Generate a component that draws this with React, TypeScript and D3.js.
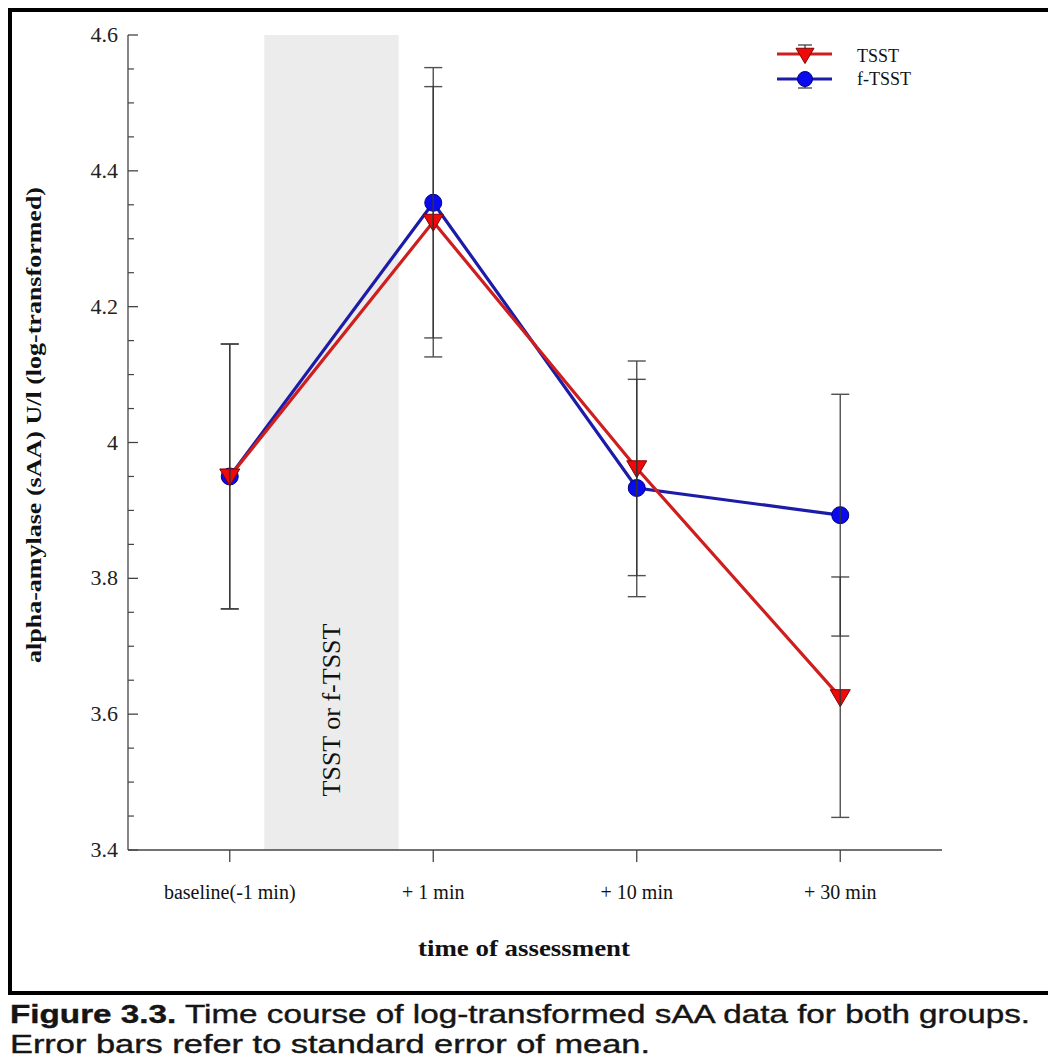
import React from 'react';
import * as d3 from 'd3';

const categories = ['baseline(-1 min)', '+ 1 min', '+ 10 min', '+ 30 min'];
const tsstMean = [3.95, 4.325, 3.962, 3.625];
const tsstSE = [0.195, 0.199, 0.158, 0.177];
const ftsstMean = [3.95, 4.353, 3.933, 3.893];
const ftsstSE = [0.195, 0.199, 0.16, 0.178];
const yMajorTicks = [3.4, 3.6, 3.8, 4.0, 4.2, 4.4, 4.6];
const yTickLabels = ['3.4', '3.6', '3.8', '4', '4.2', '4.4', '4.6'];
const stressBand = [0.17, 0.83]; // in category-index units between baseline and +1 min

const W = 1048;
const H = 1063;
const left = 128;
const right = 942;
const top = 35;
const bottom = 850;

const RED = '#cf1e1e';
const BLUE = '#1c1ca8';

export default function App() {
  const x = d3.scalePoint<string>().domain(categories).range([left, right]).padding(0.5);
  const step = x.step();
  const y = d3.scaleLinear().domain([3.4, 4.6]).range([bottom, top]);
  const minorTicks = d3.range(3.4, 4.6001, 0.05).filter((v) => Math.abs(Math.round(v * 5) - v * 5) > 1e-6);

  const lineGen = d3
    .line<number>()
    .x((_, i) => x(categories[i]) as number)
    .y((d) => y(d));

  const tri = (cx: number, cy: number, s: number) =>
    `M${cx - s},${cy - s * 0.75} L${cx + s},${cy - s * 0.75} L${cx},${cy + s * 0.95} Z`;

  const series = [
    { name: 'f-TSST', mean: ftsstMean, se: ftsstSE, color: BLUE, marker: 'circle' },
    { name: 'TSST', mean: tsstMean, se: tsstSE, color: RED, marker: 'tri' },
  ];

  const bandX0 = (x(categories[0]) as number) + stressBand[0] * step;
  const bandX1 = (x(categories[0]) as number) + stressBand[1] * step;
  const capFont = "'Liberation Sans Narrow', 'Liberation Sans', Arial, sans-serif";

  return (
    <svg
      width={W}
      height={H}
      style={{ position: 'absolute', left: 0, top: 0, background: '#fff' }}
      fontFamily="'Liberation Serif', 'Times New Roman', serif"
    >
      <rect x={0} y={0} width={W} height={H} fill="#fff" />
      {/* frame */}
      <path d={`M10,${994} L10,10 L${W + 10},10`} fill="none" stroke="#000" strokeWidth={4} />
      <line x1={8} x2={W} y1={993} y2={993} stroke="#000" strokeWidth={4} />

      {/* stress band */}
      <rect x={bandX0} y={y(4.6)} width={bandX1 - bandX0} height={bottom - y(4.6)} fill="#ececec" />
      <text
        transform={`translate(${(bandX0 + bandX1) / 2 + 8},${710}) rotate(-90)`}
        textAnchor="middle"
        fontSize={26}
        fill="#111"
      >
        TSST or f-TSST
      </text>

      {/* y axis */}
      <line x1={left} x2={left} y1={top} y2={bottom} stroke="#444" strokeWidth={1.3} />
      {yMajorTicks.map((t, i) => (
        <g key={t}>
          <line x1={left} x2={left + 10} y1={y(t)} y2={y(t)} stroke="#444" strokeWidth={1.3} />
          <text x={left - 10} y={y(t) + 7} textAnchor="end" fontSize={22} fill="#222">
            {yTickLabels[i]}
          </text>
        </g>
      ))}
      {minorTicks.map((t) => (
        <line key={t} x1={left} x2={left + 6} y1={y(t)} y2={y(t)} stroke="#444" strokeWidth={1.2} />
      ))}
      <text
        transform={`translate(${41},${425}) rotate(-90)`}
        textAnchor="middle"
        fontSize={22}
        fontWeight="bold"
        fill="#111"
        textLength={476}
        lengthAdjust="spacingAndGlyphs"
      >
        alpha-amylase (sAA) U/l (log-transformed)
      </text>

      {/* x axis */}
      <line x1={left} x2={right} y1={bottom} y2={bottom} stroke="#444" strokeWidth={1.3} />
      {categories.map((c) => (
        <g key={c}>
          <line x1={x(c)} x2={x(c)} y1={bottom} y2={bottom + 12} stroke="#444" strokeWidth={1.3} />
          <text x={x(c)} y={bottom + 49} textAnchor="middle" fontSize={20} fill="#111">
            {c}
          </text>
        </g>
      ))}
      <text
        x={524}
        y={956}
        textAnchor="middle"
        fontSize={24}
        fontWeight="bold"
        fill="#111"
        textLength={212}
        lengthAdjust="spacingAndGlyphs"
      >
        time of assessment
      </text>

      {/* lines and markers */}
      {series.map((s) => (
        <g key={s.name}>
          <path d={lineGen(s.mean) || ''} fill="none" stroke={s.color} strokeWidth={3.2} />
          {s.mean.map((m, i) =>
            s.marker === 'circle' ? (
              <circle key={i} cx={x(categories[i])} cy={y(m)} r={8.5} fill="#0a0aee" stroke="#000088" strokeWidth={1} />
            ) : (
              <path key={i} d={tri(x(categories[i]) as number, y(m), 10)} fill="#ee0a0a" stroke="#880000" strokeWidth={1} />
            )
          )}
        </g>
      ))}

      {/* error bars */}
      {series.map((s) =>
        s.mean.map((m, i) => {
          const cx = x(categories[i]) as number;
          const y0 = y(m - s.se[i]);
          const y1 = y(m + s.se[i]);
          return (
            <g key={s.name + i} stroke="#333" strokeWidth={1.4} opacity={0.85}>
              <line x1={cx} x2={cx} y1={y0} y2={y1} />
              <line x1={cx - 9} x2={cx + 9} y1={y0} y2={y0} />
              <line x1={cx - 9} x2={cx + 9} y1={y1} y2={y1} />
            </g>
          );
        })
      )}

      {/* legend */}
      <g>
        <line x1={805} x2={805} y1={45} y2={54} stroke="#333" strokeWidth={1.2} />
        <line x1={798} x2={812} y1={45} y2={45} stroke="#333" strokeWidth={1.2} />
        <line x1={777} x2={832} y1={54} y2={54} stroke={RED} strokeWidth={3.2} />
        <path d={tri(805, 55, 9)} fill="#ee0a0a" stroke="#880000" strokeWidth={1} />
        <text x={857} y={62} fontSize={18} fill="#111">TSST</text>
        <line x1={805} x2={805} y1={79} y2={88} stroke="#333" strokeWidth={1.2} />
        <line x1={798} x2={812} y1={88} y2={88} stroke="#333" strokeWidth={1.2} />
        <line x1={777} x2={832} y1={79} y2={79} stroke={BLUE} strokeWidth={3.2} />
        <circle cx={805} cy={79} r={7.5} fill="#0a0aee" stroke="#000088" strokeWidth={1} />
        <text x={857} y={85} fontSize={18} fill="#111">f-TSST</text>
      </g>

      {/* caption */}
      <text
        x={10}
        y={1023}
        fontFamily={capFont}
        fontSize={26}
        fill="#151515"
        stroke="#151515"
        strokeWidth={0.4}
        textLength={1020}
        lengthAdjust="spacingAndGlyphs"
      >
        <tspan fontWeight="bold">Figure 3.3.</tspan> Time course of log-transformed sAA data for both groups.
      </text>
      <text
        x={10}
        y={1053}
        fontFamily={capFont}
        fontSize={26}
        fill="#151515"
        stroke="#151515"
        strokeWidth={0.4}
        textLength={640}
        lengthAdjust="spacingAndGlyphs"
      >
        Error bars refer to standard error of mean.
      </text>
    </svg>
  );
}
